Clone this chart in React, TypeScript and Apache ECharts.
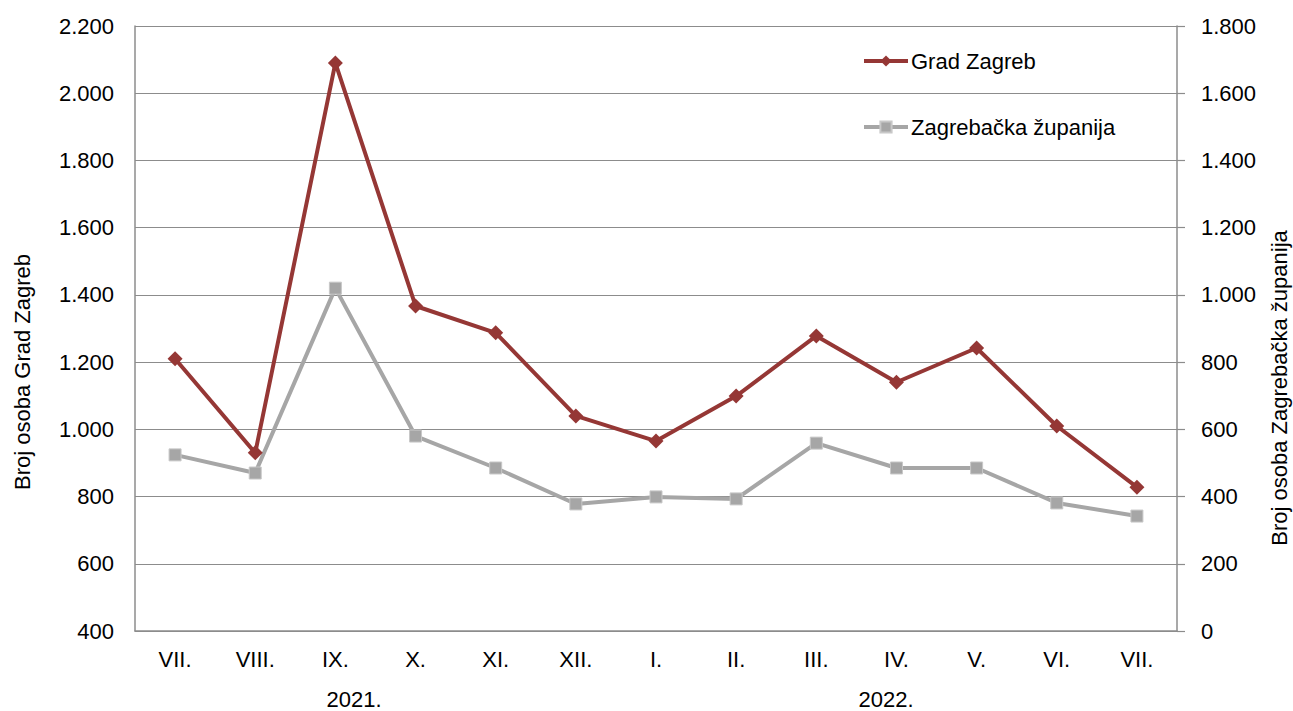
import React, { useEffect, useRef } from "react";
import * as echarts from "echarts";

const categories = ["VII.", "VIII.", "IX.", "X.", "XI.", "XII.", "I.", "II.", "III.", "IV.", "V.", "VI.", "VII."];
const gradZagreb = [1210, 930, 2090, 1367, 1287, 1040, 965, 1099, 1278, 1140, 1242, 1010, 828];
const zagrebackaZupanija = [524, 470, 1020, 580, 485, 378, 399, 393, 559, 485, 485, 381, 342];
const yearLabels = ["2021.", "2022."];

export default function App() {
  const ref = useRef<HTMLDivElement>(null);
  useEffect(() => {
    if (!ref.current) return;
    const chart = echarts.init(ref.current, undefined, { renderer: "svg" });
    const font = "'Liberation Sans', Arial, sans-serif";
    const fs = 22;
    const gridColor = "#8c8c8c";
    chart.setOption({
      animation: false,
      textStyle: { fontFamily: font },
      grid: { left: 135, right: 116, top: 26, bottom: 80, containLabel: false },
      legend: {
        orient: "vertical",
        left: 857,
        top: 45,
        itemGap: 44,
        itemWidth: 44,
        itemHeight: 14,
        lineStyle: { width: 4 },
        textStyle: { fontSize: fs, color: "#000", fontFamily: font, padding: [0, 0, 0, -2] },
        data: ["Grad Zagreb", "Zagrebačka županija"],
      },
      xAxis: {
        type: "category",
        data: categories,
        boundaryGap: true,
        axisLine: { lineStyle: { color: gridColor, width: 1.5 } },
        axisTick: { show: false },
        axisLabel: { color: "#000", fontSize: fs, margin: 17, fontFamily: font },
      },
      yAxis: [
        {
          type: "value",
          min: 400,
          max: 2200,
          interval: 200,
          axisLine: { show: true, lineStyle: { color: gridColor, width: 1.5 } },
          axisTick: { show: false },
          splitLine: { lineStyle: { color: gridColor, width: 1.2 } },
          axisLabel: {
            color: "#000",
            fontSize: fs,
            margin: 21,
            fontFamily: font,
            formatter: (v: number) => v.toLocaleString("de-DE"),
          },
        },
        {
          type: "value",
          min: 0,
          max: 1800,
          interval: 200,
          position: "right",
          axisLine: { show: true, lineStyle: { color: gridColor, width: 1.5 } },
          axisTick: { show: true, length: 8, lineStyle: { color: gridColor, width: 1.2 } },
          splitLine: { show: false },
          axisLabel: {
            color: "#000",
            fontSize: fs,
            margin: 24,
            fontFamily: font,
            formatter: (v: number) => v.toLocaleString("de-DE"),
          },
        },
      ],
      graphic: [
        {
          type: "text",
          x: 22,
          y: 372,
          rotation: Math.PI / 2,
          style: { text: "Broj osoba Grad Zagreb", fill: "#000", font: `${fs}px ${font}`, align: "center", verticalAlign: "middle" },
        },
        {
          type: "text",
          x: 1279,
          y: 388,
          rotation: Math.PI / 2,
          style: { text: "Broj osoba Zagrebačka županija", fill: "#000", font: `${fs}px ${font}`, align: "center", verticalAlign: "middle" },
        },
        {
          type: "text",
          x: 354,
          y: 699,
          style: { text: yearLabels[0], fill: "#000", font: `${fs}px ${font}`, align: "center", verticalAlign: "middle" },
        },
        {
          type: "text",
          x: 886,
          y: 699,
          style: { text: yearLabels[1], fill: "#000", font: `${fs}px ${font}`, align: "center", verticalAlign: "middle" },
        },
      ],
      series: [
        {
          name: "Grad Zagreb",
          type: "line",
          yAxisIndex: 0,
          data: gradZagreb,
          symbol: "diamond",
          symbolSize: 15,
          lineStyle: { color: "#953735", width: 4 },
          itemStyle: { color: "#953735" },
          z: 3,
        },
        {
          name: "Zagrebačka županija",
          type: "line",
          yAxisIndex: 1,
          data: zagrebackaZupanija,
          symbol: "rect",
          symbolSize: 12,
          lineStyle: { color: "#a6a6a6", width: 4 },
          itemStyle: { color: "#a6a6a6", borderColor: "#c8c8c8", borderWidth: 1 },
          z: 2,
        },
      ],
    });
    return () => chart.dispose();
  }, []);
  return <div ref={ref} style={{ width: 1293, height: 711, position: "absolute", left: 0, top: 0 }} />;
}
